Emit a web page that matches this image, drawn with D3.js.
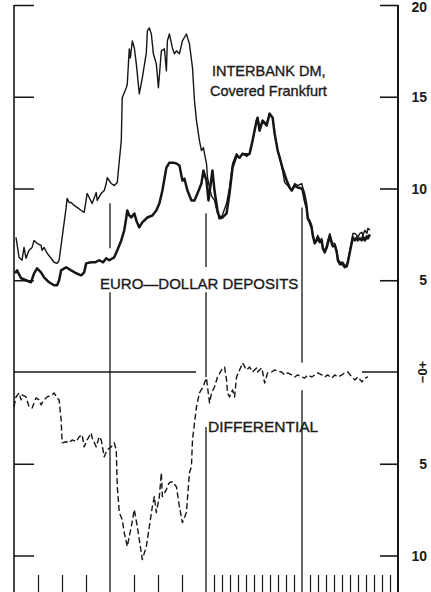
<!DOCTYPE html>
<html>
<head>
<meta charset="utf-8">
<script src="https://cdn.jsdelivr.net/npm/d3@7"></script>
<style>
  body { margin: 0; background: #fff; }
  svg text { font-family: "Liberation Sans", Arial, Helvetica, sans-serif; fill: #1a1a1a; }
  svg text.name { stroke: #1a1a1a; stroke-width: 0.35; }
</style>
</head>
<body>
<div id="grafico"></div>
<script>
// months since Jan 1972, percent per annum
var interbankDM = [
  [0.25, 7.34], [0.63, 6.25], [1.0, 6.09], [1.25, 6.79], [1.5, 6.2], [1.88, 6.63], [2.26, 6.79],
  [2.5, 7.17], [2.88, 7.01], [3.38, 6.9], [3.51, 6.63], [3.76, 6.79], [4.14, 6.47], [4.64, 6.2],
  [5.01, 5.98], [5.39, 5.92], [5.64, 6.09], [6.02, 7.34], [6.52, 8.97], [6.64, 9.46], [6.89, 9.24],
  [7.14, 9.24], [7.52, 9.08], [7.89, 8.97], [8.4, 8.8], [8.77, 8.7], [9.15, 9.73], [9.4, 9.51],
  [9.77, 9.18], [10.28, 9.78], [10.4, 9.35], [10.9, 9.73], [11.28, 9.89], [11.53, 10.27], [11.65, 10.6],
  [12.16, 10.27], [12.53, 10.16], [12.91, 10.33], [13.16, 11.5], [13.41, 12.6], [13.53, 14.95],
  [14.04, 15.49], [14.16, 15.71], [14.41, 17.61], [14.54, 17.12], [14.79, 18.04], [15.04, 17.66],
  [15.29, 16.79], [15.66, 15.16], [16.04, 16.03], [16.54, 17.39], [16.67, 18.59], [16.92, 18.75],
  [17.17, 18.42], [17.42, 17.34], [17.79, 16.79], [18.05, 15.49], [18.42, 17.5], [18.8, 17.61],
  [19.05, 16.41], [19.17, 18.04], [19.42, 18.42], [19.8, 17.66], [20.05, 17.34], [20.3, 17.5],
  [20.68, 17.34], [21.05, 18.04], [21.55, 18.42], [21.93, 17.88], [22.31, 16.58], [22.56, 14.78],
  [22.81, 13.7], [23.18, 12.61], [23.43, 12.07], [23.68, 12.23], [23.81, 11.9], [24.06, 11.36],
  [24.19, 10.6], [24.44, 10.05], [24.69, 9.6], [25.06, 9.35], [25.44, 8.64], [25.94, 8.42],
  [26.57, 9.18], [26.94, 10.05], [27.32, 11.36], [27.82, 11.9], [28.2, 11.68], [28.57, 11.9],
  [29.07, 11.9], [29.45, 11.9], [29.82, 12.61], [30.33, 13.7], [30.45, 13.86], [30.7, 13.32],
  [31.08, 13.7], [31.58, 13.53], [31.95, 14.08], [32.33, 13.86], [32.58, 12.99], [32.96, 12.07],
  [33.21, 11.68], [33.58, 10.98], [33.83, 10.33], [34.21, 10.16], [34.71, 9.89], [35.09, 10.27],
  [35.46, 10.16], [35.96, 10.27], [36.09, 10.05], [36.34, 9.73], [36.59, 9.18], [36.72, 8.42],
  [36.97, 8.26], [37.22, 7.99], [37.34, 7.55], [37.59, 7.07], [37.84, 7.28], [37.97, 7.45],
  [38.22, 7.17], [38.47, 7.28], [38.6, 6.79], [38.85, 6.63], [39.1, 6.9], [39.22, 7.17],
  [39.47, 7.55], [39.72, 7.17], [39.85, 7.01], [40.1, 7.01], [40.35, 6.63], [40.48, 6.2],
  [40.73, 5.98], [41.1, 5.98], [41.35, 5.82], [41.6, 5.82], [41.73, 6.09], [41.98, 6.63],
  [42.23, 7.17], [42.36, 7.55], [42.61, 7.55], [42.86, 7.45], [42.98, 7.34], [43.23, 7.55],
  [43.48, 7.61], [43.61, 7.45], [43.86, 7.72], [44.11, 7.55], [44.24, 7.83], [44.49, 7.72]
];

var euroDollar = [
  [0.13, 5.38], [0.38, 5.54], [0.88, 5.11], [1.5, 5.0], [2.13, 4.89], [2.51, 5.38], [2.88, 5.65],
  [3.38, 5.43], [3.76, 5.16], [4.39, 4.89], [5.01, 4.73], [5.39, 4.73], [5.64, 5.0], [5.89, 5.54],
  [6.52, 5.71], [7.14, 5.54], [7.77, 5.38], [8.4, 5.27], [8.77, 5.43], [9.02, 5.92], [9.65, 5.98],
  [10.15, 5.98], [10.65, 6.09], [11.15, 5.98], [11.53, 6.2], [11.9, 6.09], [12.53, 6.25],
  [12.91, 6.63], [13.41, 7.17], [13.78, 7.72], [14.04, 8.42], [14.16, 8.8], [14.41, 8.53],
  [14.66, 8.42], [15.04, 8.64], [15.29, 8.26], [15.66, 7.88], [16.04, 8.15], [16.67, 8.42],
  [17.29, 8.53], [17.79, 8.8], [18.17, 9.18], [18.55, 9.89], [19.05, 11.14], [19.42, 11.41],
  [19.92, 11.41], [20.3, 11.36], [20.68, 11.25], [21.05, 10.43], [21.3, 10.54], [21.68, 9.89],
  [22.18, 9.35], [22.56, 9.35], [22.93, 9.73], [23.43, 10.27], [23.68, 10.98], [24.06, 10.43],
  [24.31, 9.35], [24.81, 10.98], [25.06, 9.89], [25.44, 8.8], [25.69, 8.37], [26.07, 8.42],
  [26.57, 8.64], [26.94, 9.73], [27.32, 11.14], [27.82, 11.79], [28.2, 11.68], [28.57, 11.9],
  [29.07, 11.79], [29.45, 11.9], [29.82, 12.61], [30.33, 13.7], [30.45, 13.86], [30.7, 13.15],
  [31.08, 13.7], [31.58, 13.43], [31.95, 14.08], [32.33, 13.86], [32.58, 12.99], [32.96, 12.07],
  [33.21, 11.68], [33.58, 11.09], [34.09, 10.43], [34.46, 10.05], [34.71, 9.89], [35.09, 10.16],
  [35.46, 10.05], [35.96, 10.0], [36.09, 9.89], [36.34, 9.35], [36.59, 8.91], [36.72, 8.37],
  [36.97, 8.15], [37.22, 7.83], [37.34, 7.45], [37.59, 7.01], [37.84, 7.17], [37.97, 7.34],
  [38.22, 7.07], [38.47, 7.17], [38.6, 6.74], [38.85, 6.52], [39.1, 6.79], [39.22, 7.01],
  [39.47, 7.39], [39.72, 7.01], [39.85, 6.85], [40.1, 6.9], [40.35, 6.52], [40.48, 6.09],
  [40.73, 5.87], [41.1, 5.87], [41.35, 5.71], [41.6, 5.76], [41.73, 5.98], [41.98, 6.52],
  [42.23, 7.07], [42.36, 7.34], [42.61, 7.17], [42.86, 7.34], [42.98, 7.17], [43.23, 7.28],
  [43.48, 7.17], [43.61, 7.39], [43.86, 7.17], [44.11, 7.39], [44.24, 7.28], [44.49, 7.5]
];

var differential = [
  [0.0, -1.9], [0.25, -1.36], [0.63, -1.14], [0.88, -1.52], [1.0, -1.25], [1.5, -1.36], [1.88, -1.9],
  [2.26, -1.96], [2.76, -1.41], [3.13, -1.52], [3.38, -1.79], [3.76, -1.52], [4.14, -1.36],
  [4.76, -1.25], [5.01, -1.14], [5.39, -1.41], [5.64, -1.52], [5.89, -2.61], [6.02, -3.86],
  [6.52, -3.8], [6.89, -3.86], [7.27, -3.7], [7.77, -3.8], [8.15, -3.53], [8.52, -3.42],
  [8.77, -4.08], [9.15, -3.7], [9.65, -3.32], [9.77, -3.59], [10.28, -4.08], [10.65, -3.53],
  [10.9, -3.7], [11.28, -4.62], [11.65, -4.24], [12.16, -4.08], [12.53, -3.86], [12.78, -4.24],
  [12.91, -6.25], [13.16, -7.66], [13.53, -8.04], [13.78, -8.75], [14.16, -9.51], [14.66, -8.42],
  [15.04, -7.5], [15.41, -8.42], [15.66, -9.13], [16.04, -10.22], [16.54, -9.51], [16.92, -8.42],
  [17.29, -7.34], [17.54, -6.79], [17.79, -7.66], [18.17, -6.79], [18.42, -5.49], [18.55, -6.79],
  [19.05, -6.41], [19.17, -6.25], [19.42, -6.03], [19.8, -5.98], [20.3, -6.25], [20.68, -7.34],
  [21.05, -8.21], [21.55, -7.66], [21.93, -5.49], [22.18, -5.16], [22.31, -3.7], [22.81, -1.9],
  [23.18, -1.14], [23.56, -0.87], [24.06, -0.33], [24.19, -0.82], [24.44, -1.68], [24.69, -1.14],
  [25.06, -0.82], [25.44, -0.27], [25.94, 0.11], [26.32, 0.27], [26.57, -0.43], [26.69, -1.14],
  [26.94, -1.36], [27.32, -0.98], [27.57, -1.36], [27.82, -0.27], [28.2, 0.11], [28.57, 0.49],
  [29.07, 0.11], [29.45, 0.27], [29.82, 0.0], [30.33, 0.22], [30.45, 0.0], [30.95, 0.22],
  [31.08, 0.0], [31.33, -0.6], [31.7, -0.05], [32.21, 0.0], [32.58, 0.11], [32.96, 0.05],
  [33.46, 0.0], [33.83, -0.16], [34.21, -0.05], [34.71, -0.16], [35.09, -0.27], [35.46, -0.16],
  [35.96, -0.27], [36.34, -0.33], [36.72, -0.16], [37.22, -0.27], [37.59, -0.16], [37.97, -0.05],
  [38.47, -0.16], [38.85, -0.27], [39.22, -0.16], [39.72, -0.33], [40.1, -0.16], [40.48, -0.27],
  [40.98, -0.16], [41.35, -0.05], [41.73, 0.0], [42.23, -0.27], [42.61, -0.43], [42.98, -0.27],
  [43.48, -0.54], [43.86, -0.33], [44.24, -0.27]
];

// scale ticks (upper part: rates, lower part: differential, counted downward)
var tickValues = [20, 15, 10, 5, -5, -10];
var tickLabels = ["20", "15", "10", "5", "5", "10"];

// year boundaries (months) and the pieces of each vertical rule (in % units)
var yearMonths = [12, 24, 36];
var yearPieces = [
  [[9.2, 6.75], [4.35, -12]],
  [[8.65, 5.72], [4.35, -0.28], [-3.0, -12]],
  [[8.97, 0.5], [-1.0, -12]]
];
var zeroPieces = [[0, 22.75], [43.5, 48]];
var monthTicks = [3, 6, 9, 15, 18, 21, 25, 26, 27, 28, 29, 30, 31, 32, 33, 34, 35,
                  37, 38, 39, 40, 41, 42, 43, 44, 45, 46, 47];

var W = 431, H = 592;

var svg = d3.select("#grafico")
  .append("svg")
  .attr("width", W)
  .attr("height", H);

var x = d3.scaleLinear().domain([0, 48]).range([14, 398]);
var y = d3.scaleLinear().domain([0, 20]).range([372, 5]);

var ink = "#161616";

// year rules
yearMonths.forEach(function(m, i) {
  yearPieces[i].forEach(function(p) {
    svg.append("line")
      .attr("x1", x(m)).attr("x2", x(m))
      .attr("y1", y(p[0])).attr("y2", y(p[1]))
      .attr("stroke", ink)
      .attr("stroke-width", 1.3);
  });
});

// zero line
zeroPieces.forEach(function(p) {
  svg.append("line")
    .attr("x1", x(p[0])).attr("x2", x(p[1]))
    .attr("y1", y(0)).attr("y2", y(0))
    .attr("stroke", ink)
    .attr("stroke-width", 1.5);
});

// month ticks along the bottom
svg.append("g")
  .attr("transform", "translate(0," + H + ")")
  .call(d3.axisTop(x).tickValues(monthTicks).tickSize(17).tickFormat(""))
  .call(function(g) { g.select(".domain").remove(); })
  .selectAll("line")
  .attr("stroke", ink)
  .attr("stroke-width", 1.2);

// left axis
svg.append("line")
  .attr("x1", x(0)).attr("x2", x(0))
  .attr("y1", y(20)).attr("y2", H)
  .attr("stroke", ink).attr("stroke-width", 1.6);

svg.append("g")
  .attr("transform", "translate(" + x(0) + ",0)")
  .call(d3.axisRight(y).tickValues(tickValues).tickSize(20).tickFormat(""))
  .call(function(g) { g.select(".domain").remove(); })
  .selectAll("line")
  .attr("stroke", ink).attr("stroke-width", 1.5);

// right axis
svg.append("line")
  .attr("x1", x(48)).attr("x2", x(48))
  .attr("y1", y(20)).attr("y2", H)
  .attr("stroke", ink).attr("stroke-width", 2);

svg.append("g")
  .attr("transform", "translate(" + x(48) + ",0)")
  .call(d3.axisLeft(y).tickValues(tickValues).tickSize(18).tickFormat(""))
  .call(function(g) { g.select(".domain").remove(); })
  .selectAll("line")
  .attr("stroke", ink).attr("stroke-width", 1.6);

// right labels
svg.append("g").selectAll("text")
  .data(tickValues)
  .enter()
  .append("text")
  .attr("x", 427)
  .attr("y", function(d) { return Math.max(y(d) + 5, 12); })
  .attr("text-anchor", "end")
  .attr("font-size", 14)
  .attr("font-weight", "bold")
  .text(function(d, i) { return tickLabels[i]; });

// the zero label, sideways
svg.append("text")
  .attr("transform", "translate(422," + y(0) + ") rotate(-90)")
  .attr("text-anchor", "middle")
  .attr("dy", "0.36em")
  .attr("font-size", 13)
  .attr("font-weight", "bold")
  .text("−0+");

// the series
var line = d3.line()
  .x(function(d) { return x(d[0]); })
  .y(function(d) { return y(d[1]); });

svg.append("path")
  .datum(differential)
  .attr("fill", "none")
  .attr("stroke", ink)
  .attr("stroke-width", 1.4)
  .attr("stroke-dasharray", "6,3")
  .attr("stroke-linejoin", "round")
  .attr("d", line);

svg.append("path")
  .datum(interbankDM)
  .attr("fill", "none")
  .attr("stroke", ink)
  .attr("stroke-width", 1.4)
  .attr("stroke-linejoin", "round")
  .attr("d", line);

svg.append("path")
  .datum(euroDollar)
  .attr("fill", "none")
  .attr("stroke", ink)
  .attr("stroke-width", 2.5)
  .attr("stroke-linejoin", "round")
  .attr("d", line);

// series names
svg.append("text").attr("class", "name")
  .attr("x", 212).attr("y", 76)
  .attr("font-size", 14.5)
  .text("INTERBANK DM,");

svg.append("text").attr("class", "name")
  .attr("x", 210).attr("y", 96)
  .attr("font-size", 14.5)
  .text("Covered Frankfurt");

svg.append("text").attr("class", "name")
  .attr("x", 100).attr("y", 289)
  .attr("font-size", 15)
  .text("EURO—DOLLAR DEPOSITS");

svg.append("text").attr("class", "name")
  .attr("x", 208).attr("y", 432)
  .attr("font-size", 15.5)
  .text("DIFFERENTIAL");
</script>
</body>
</html>
